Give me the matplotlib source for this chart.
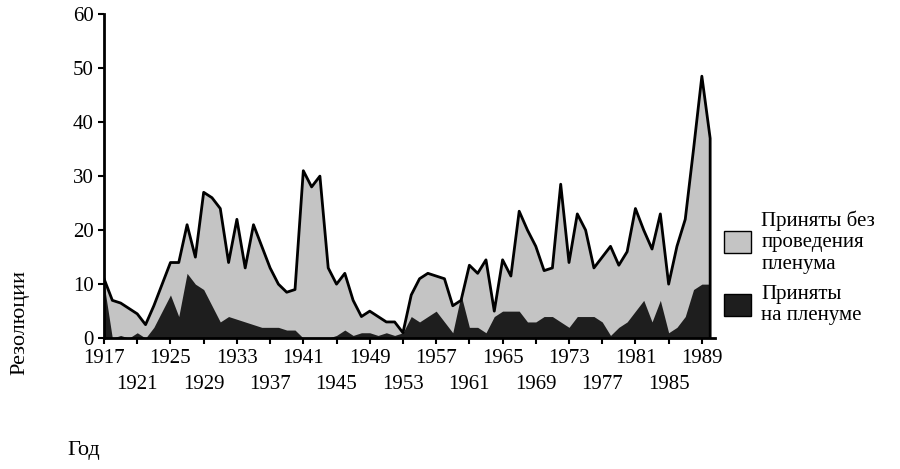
import matplotlib
matplotlib.use("Agg")
import matplotlib.pyplot as plt
from matplotlib.patches import Patch

years = list(range(1917, 1991))
total = [11, 7, 6.5, 5.5, 4.5, 2.5, 6, 10, 14, 14, 21, 15, 27, 26, 24, 14, 22, 13, 21, 17,
         13, 10, 8.5, 9, 31, 28, 30, 13, 10, 12, 7, 4, 5, 4, 3, 3, 1, 8, 11, 12,
         11.5, 11, 6, 7, 13.5, 12, 14.5, 5, 14.5, 11.5, 23.5, 20, 17, 12.5, 13, 28.5, 14, 23,
         20, 13, 15, 17, 13.5, 16, 24, 20, 16.5, 23, 10, 17, 22, 35, 48.5, 37]
plenum = [10, 0, 0.5, 0, 1, 0, 2, 5, 8, 4, 12, 10, 9, 6, 3, 4, 3.5, 3, 2.5, 2,
          2, 2, 1.5, 1.5, 0, 0, 0, 0, 0.5, 1.5, 0.5, 1, 1, 0.5, 1, 0.5, 1, 4, 3, 4,
          5, 3, 1, 8, 2, 2, 1, 4, 5, 5, 5, 3, 3, 4, 4, 3, 2, 4,
          4, 4, 3, 0.5, 2, 3, 5, 7, 3, 7, 1, 2, 4, 9, 10, 10]
tick_years = list(range(1917, 1990, 4))
tick_labels = [str(y) if i % 2 == 0 else "\n" + str(y) for i, y in enumerate(tick_years)]

plt.rcParams['font.family'] = ['Liberation Serif', 'DejaVu Serif']
fig = plt.figure(figsize=(9, 4.69), dpi=100)
ax = fig.add_axes([0.1156, 0.279, 0.679, 0.691])
light = '#c4c4c4'
dark = '#1e1e1e'
ax.fill_between(years, 0, total, color=light, lw=0)
ax.fill_between(years, 0, plenum, color=dark, lw=0)
ax.plot(years + [1990], total + [0], color='black', lw=2)
ax.set_xlim(1917, 1990.6)
ax.set_ylim(0, 60)
ax.set_yticks(range(0, 61, 10))
ax.set_xticks(tick_years)
ax.set_xticklabels(tick_labels, fontsize=15, linespacing=1.5)
ax.tick_params(axis='y', labelsize=15, direction='out', length=4, width=1.5)
ax.tick_params(axis='x', direction='out', length=4, width=1.5)
for s in ['top', 'right']:
    ax.spines[s].set_visible(False)
ax.spines['left'].set_linewidth(2)
ax.spines['bottom'].set_linewidth(2)
fig.text(0.012, 0.2, 'Резолюции', rotation=90, fontsize=16, ha='left', va='bottom')
fig.text(0.075, 0.04, 'Год', fontsize=16, ha='left', va='center')
handles = [Patch(facecolor=light, edgecolor='black', lw=1), Patch(facecolor=dark, edgecolor='black', lw=1)]
fig.legend(handles, ['Приняты без\nпроведения\nпленума', 'Приняты\nна пленуме'],
           loc='upper left', bbox_to_anchor=(0.795, 0.57), frameon=False, fontsize=15,
           handlelength=1.3, handleheight=1.3, labelspacing=0.5, borderaxespad=0, handletextpad=0.5)
fig.savefig('out.png')
